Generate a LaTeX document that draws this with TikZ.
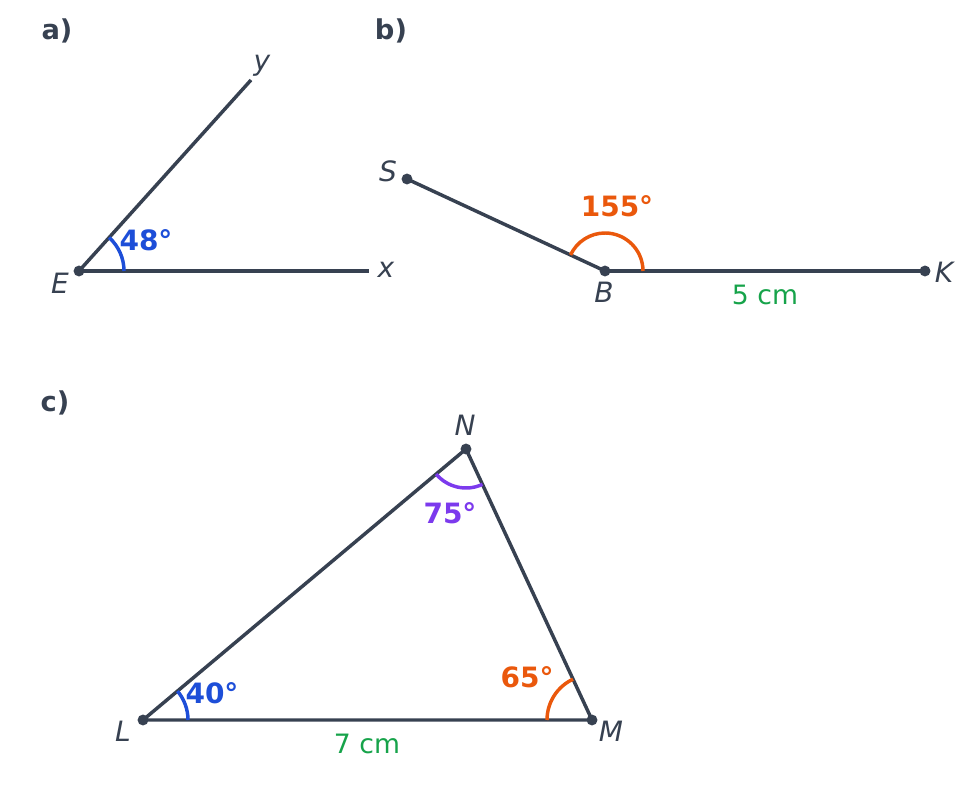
\documentclass[tikz,border=0pt]{standalone}
\usepackage{fontspec}
\setmainfont{DejaVu Sans}[ItalicFont={DejaVu Sans Oblique},BoldFont={DejaVu Sans Bold},BoldItalicFont={DejaVu Sans Bold Oblique}]
\usepackage{xcolor}
\usepackage{tikz}
\usetikzlibrary{positioning}

\definecolor{ink}{HTML}{374151}
\definecolor{angblue}{HTML}{1D4ED8}
\definecolor{angorange}{HTML}{EA580C}
\definecolor{angpurple}{HTML}{7C3AED}
\definecolor{lengreen}{HTML}{16A34A}

\begin{document}
\begin{tikzpicture}[
        x=0.75pt, y=0.75pt,
        seg/.style={draw=ink, line width=2.6pt},
        dot/.style={fill=ink},
        angarc/.style={line width=2.6pt},
        panel/.style={text=ink, font=\fontsize{20.5}{24}\selectfont\bfseries, inner sep=0pt},
        ptlabel/.style={text=ink, font=\fontsize{21}{25}\selectfont\itshape, inner sep=0pt},
        anglabel/.style={font=\fontsize{21}{25}\selectfont\bfseries, inner sep=0pt},
        lenlabel/.style={text=lengreen, font=\fontsize{20}{24}\selectfont, inner sep=0pt}
    ]
        \useasboundingbox (0,0) rectangle (978,786);

        % a) angle xEy
        \node[panel] (pa) at (57,755) {a)};
        \coordinate (E) at (79,515);
        \coordinate (xend) at (369,515);
        \coordinate (yend) at (251,706);
        \draw[seg] (E) -- (xend);
        \draw[seg] (E) -- (yend);
        \draw[angarc, angblue] (E) ++(0:45) arc[start angle=0, end angle=48, radius=33.75pt];
        \fill[dot] (E) circle[radius=4.1pt];
        \node[ptlabel] (lE) at (60,503) {E};
        \node[ptlabel] (lx) at (386,516) {x};
        \node[ptlabel] (ly) at (262,720) {y};
        \node[anglabel, text=angblue] (aE) at (146,546) {48°};

        % b) angle SBK
        \node[panel] (pb) at (391,755) {b)};
        \coordinate (B) at (605,515);
        \coordinate (K) at (925,515);
        \coordinate (S) at (407,607);
        \draw[seg] (S) -- (B);
        \draw[seg] (B) -- (K);
        \draw[angarc, angorange] (B) ++(0:38) arc[start angle=0, end angle=155, radius=28.5pt];
        \foreach \p in {S,B,K} \fill[dot] (\p) circle[radius=4.1pt];
        \node[ptlabel] (lS) at (388,615) {S};
        \node[ptlabel] (lB) at (604,494) {B};
        \node[ptlabel] (lK) at (944,514) {K};
        \node[anglabel, text=angorange] (aB) at (617,580) {155°};
        \node[lenlabel] (BK) at (765,491) {5 cm};

        % c) triangle LMN
        \node[panel] (pc) at (55,383) {c)};
        \coordinate (L) at (143,66);
        \coordinate (M) at (592,66);
        \coordinate (N) at (466,337);
        \draw[seg, line join=round] (L) -- (M) -- (N) -- cycle;
        \draw[angarc, angblue] (L) ++(0:45) arc[start angle=0, end angle=40, radius=33.75pt];
        \draw[angarc, angorange] (M) ++(115:45) arc[start angle=115, end angle=180, radius=33.75pt];
        \draw[angarc, angpurple] (N) ++(220:39) arc[start angle=220, end angle=295, radius=29.25pt];
        \foreach \p in {L,M,N} \fill[dot] (\p) circle[radius=4.1pt];
        \node[ptlabel] (lN) at (465,361) {N};
        \node[ptlabel] (lL) at (123,55) {L};
        \node[ptlabel] (lM) at (611,55) {M};
        \node[anglabel, text=angblue] (aL) at (212,93) {40°};
        \node[anglabel, text=angorange] (aM) at (527,109) {65°};
        \node[anglabel, text=angpurple] (aN) at (450,273) {75°};
        \node[lenlabel] (LM) at (367,42) {7 cm};
    \end{tikzpicture}
\end{document}
